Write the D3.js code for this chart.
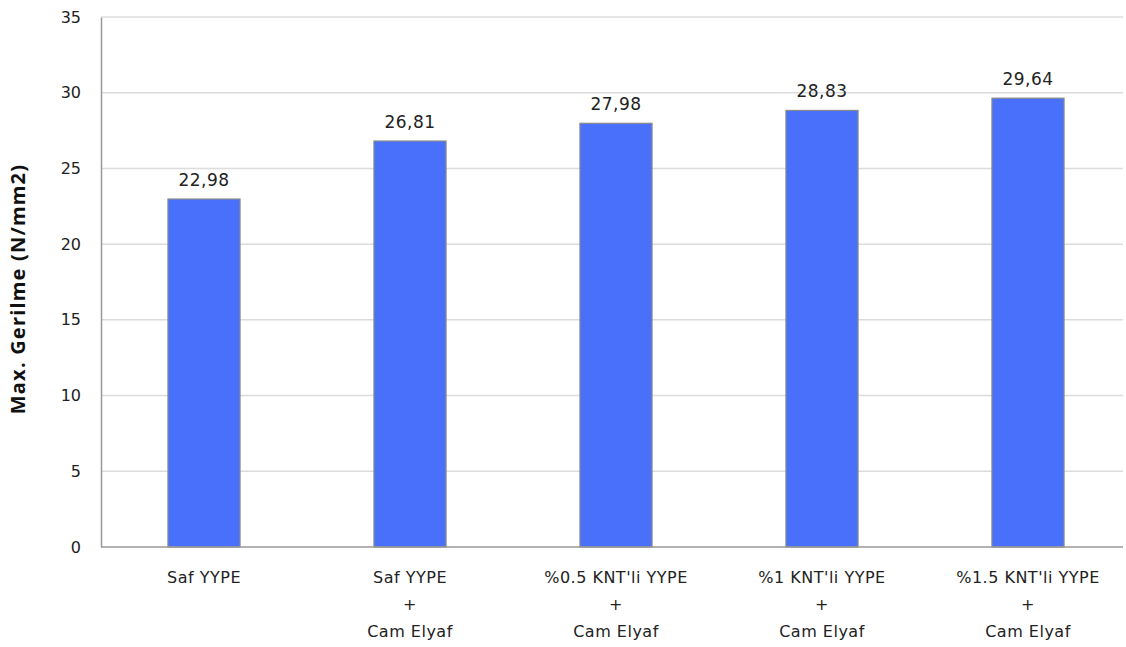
<!DOCTYPE html>
<html>
<head>
<meta charset="utf-8">
<script src="https://cdn.jsdelivr.net/npm/d3@7"></script>
<style>
  body { margin: 0; background: #fff; }
  text { font-family: "DejaVu Sans", Verdana, sans-serif; fill: #222; }
</style>
</head>
<body>
<div id="chart"></div>
<script>
// Data
const categories = [
  ["Saf YYPE"],
  ["Saf YYPE", "+", "Cam Elyaf"],
  ["%0.5 KNT'li YYPE", "+", "Cam Elyaf"],
  ["%1 KNT'li YYPE", "+", "Cam Elyaf"],
  ["%1.5 KNT'li YYPE", "+", "Cam Elyaf"]
];
const values = [22.98, 26.81, 27.98, 28.83, 29.64];
const yTicks = [0, 5, 10, 15, 20, 25, 30, 35];

const W = 1126, H = 647;
const plot = {left: 101, right: 1123, top: 17, bottom: 547};

const svg = d3.select("#chart").append("svg")
    .attr("width", W)
    .attr("height", H);

const ids = categories.map((c, i) => i);
const x = d3.scaleBand()
    .domain(ids)
    .range([plot.left, 1131])
    .paddingInner(0.65)
    .paddingOuter(0.325);

const y = d3.scaleLinear()
    .domain([0, 35])
    .range([plot.bottom, plot.top]);

// Gridlines
svg.append("g")
  .selectAll("line")
  .data(yTicks.filter(d => d > 0))
  .enter().append("line")
    .attr("x1", plot.left)
    .attr("x2", plot.right)
    .attr("y1", d => y(d))
    .attr("y2", d => y(d))
    .style("stroke", "#dcdcdc")
    .style("stroke-width", 1.5);

// Y axis
const yAxis = svg.append("g")
    .attr("transform", "translate(" + plot.left + ",0)")
    .call(d3.axisLeft(y).tickValues(yTicks).tickSize(0).tickPadding(20));
yAxis.select(".domain").style("stroke", "#999").style("stroke-width", 1.5);
yAxis.selectAll("text")
    .style("font-family", "'DejaVu Sans', sans-serif")
    .style("font-size", "16px")
    .style("fill", "#222");

// Bars
svg.selectAll(".bar")
    .data(values)
  .enter().append("rect")
    .attr("class", "bar")
    .attr("x", (d, i) => x(i))
    .attr("y", d => y(d))
    .attr("width", x.bandwidth())
    .attr("height", d => y(0) - y(d))
    .style("fill", "#4870fb")
    .style("stroke", "#8a8a8a")
    .style("stroke-width", 1.2);

// Baseline
svg.append("line")
    .attr("x1", plot.left)
    .attr("x2", plot.right)
    .attr("y1", y(0))
    .attr("y2", y(0))
    .style("stroke", "#999")
    .style("stroke-width", 1.5);

// Value labels
svg.selectAll(".val")
    .data(values)
  .enter().append("text")
    .attr("class", "val")
    .attr("x", (d, i) => x(i) + x.bandwidth() / 2)
    .attr("y", d => y(d) - 13)
    .attr("text-anchor", "middle")
    .style("font-size", "17px")
    .style("letter-spacing", "0.5px")
    .text(d => d.toFixed(2).replace(".", ","));

// Category labels
const cat = svg.selectAll(".cat")
    .data(categories)
  .enter().append("text")
    .attr("class", "cat")
    .attr("text-anchor", "middle")
    .style("font-size", "16px")
    .style("letter-spacing", "0.5px");
cat.selectAll("tspan")
    .data((d, i) => d.map(s => ({s, i})))
  .enter().append("tspan")
    .attr("x", d => x(d.i) + x.bandwidth() / 2)
    .attr("y", (d, j) => 583 + j * 27)
    .text(d => d.s);

// Y title
svg.append("text")
    .attr("transform", "translate(25,289) rotate(-90)")
    .attr("text-anchor", "middle")
    .style("font-family", "'Open Sans', sans-serif")
    .style("font-weight", "bold")
    .style("font-size", "20px")
    .style("letter-spacing", "1.2px")
    .style("fill", "#111")
    .text("Max. Gerilme (N/mm2)");
</script>
</body>
</html>
